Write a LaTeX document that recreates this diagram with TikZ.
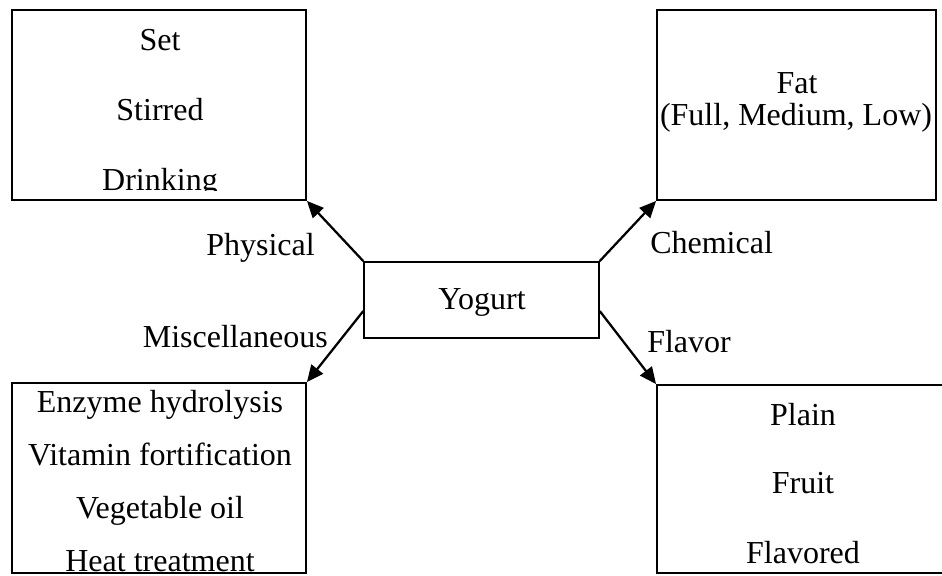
\documentclass[tikz,border=0pt]{standalone}
\usepackage{fontspec}
\setmainfont{Liberation Serif}
\usetikzlibrary{positioning,arrows.meta}

\tikzset{
    catbox/.style={draw, line width=1.4pt, inner sep=0pt, rectangle},
    item/.style={anchor=base, inner sep=0pt},
    link/.style={line width=1.7pt, -{Triangle[length=12.5pt, width=11pt]}},
}

\begin{document}
\begin{tikzpicture}[x=0.75pt, y=-0.75pt, font=\fontsize{24}{28}\selectfont]
    \useasboundingbox (0,0) rectangle (942,575);
    \clip (0,0) rectangle (942,575);

    % Centre box
    \node[catbox, minimum width=176pt, minimum height=57pt] (yog) at (481.5,300) {};
    \node[item] (yogtxt) at (482,309) {Yogurt};

    % Physical
    \node[catbox, minimum width=220.5pt, minimum height=142.5pt] (phys) at (159,105) {};
    \node[item] (set) at (160,50) {Set};
    \node[item] (stir) at (160,120) {Stirred};
    \begin{scope}
        \clip (12,10) rectangle (306,190);
        \node[item] (drink) at (160,190) {Drinking};
    \end{scope}

    % Chemical
    \node[catbox, minimum width=209.25pt, minimum height=142.5pt] (chem) at (796.5,105) {};
    \node[item] (fat) at (797,93) {Fat};
    \node[item] (fatlvl) at (796,125) {(Full, Medium, Low)};

    % Miscellaneous
    \node[catbox, minimum width=220.5pt, minimum height=142.5pt] (misc) at (159,478) {};
    \node[item] (enz) at (160,412) {Enzyme hydrolysis};
    \node[item] (vit) at (160,465) {Vitamin fortification};
    \node[item] (veg) at (160,518) {Vegetable oil};
    \node[item] (heat) at (160,571) {Heat treatment};

    % Flavor
    \node[catbox, minimum width=225pt, minimum height=141pt] (flav) at (807,479) {};
    \node[item] (plain) at (803,425) {Plain};
    \node[item] (fruit) at (803,493) {Fruit};
    \node[item] (flvd) at (803,563) {Flavored};

    % Arrows
    \draw[link] (yog.north west) -- (phys.south east);
    \draw[link] (yog.north east) -- (chem.south west);
    \draw[link] ([yshift=-37.5pt]yog.north west) -- (misc.north east);
    \draw[link] ([yshift=-37.5pt]yog.north east) -- (flav.north west);

    % Arrow labels
    \node[anchor=base east, inner sep=0pt] (lphys) at (315,255) {Physical};
    \node[anchor=base west, inner sep=0pt] (lchem) at (650,253) {Chemical};
    \node[anchor=base east, inner sep=0pt] (lmisc) at (328,347) {Miscellaneous};
    \node[anchor=base west, inner sep=0pt] (lflav) at (647,352) {Flavor};
\end{tikzpicture}
\end{document}
